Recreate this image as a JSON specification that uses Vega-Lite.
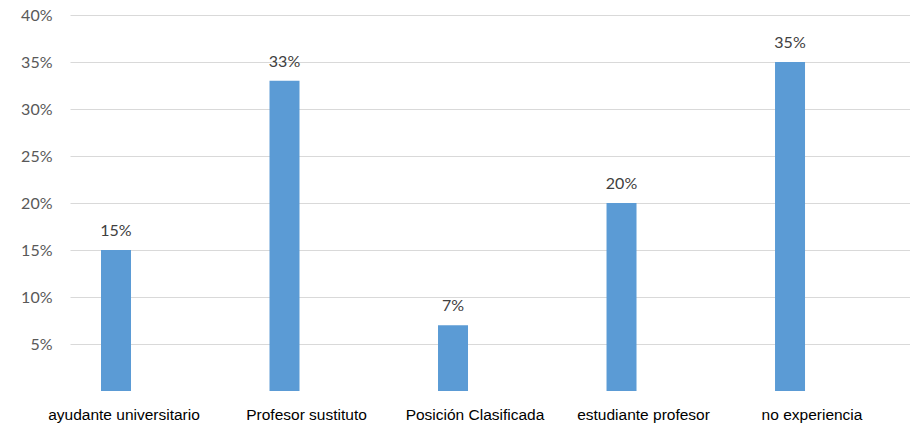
{
  "$schema": "https://vega.github.io/schema/vega-lite/v6.json",
  "autosize": "none",
  "width": 840,
  "height": 376,
  "padding": {"left": 70, "top": 15, "right": 0, "bottom": 34},
  "background": "white",
  "view": {"stroke": null},
  "data": {
    "values": [
      {"categoria": "ayudante universitario", "valor": 0.15},
      {"categoria": "Profesor sustituto", "valor": 0.33},
      {"categoria": "Posición Clasificada", "valor": 0.07},
      {"categoria": "estudiante profesor", "valor": 0.20},
      {"categoria": "no experiencia", "valor": 0.35}
    ]
  },
  "encoding": {
    "x": {
      "field": "categoria",
      "type": "nominal",
      "sort": null,
      "scale": {"paddingInner": 0.822, "paddingOuter": 0.4035, "align": 0.228},
      "axis": {
        "title": null,
        "labelAngle": 0,
        "domain": false,
        "ticks": false,
        "labelFont": "Liberation Sans",
        "labelFontSize": 15.5,
        "labelColor": "#000000",
        "labelPadding": 16,
        "labelOffset": {"condition": {"test": "datum.value === 'ayudante universitario'", "value": 8}, "value": 22}
      }
    },
    "y": {
      "field": "valor",
      "type": "quantitative",
      "scale": {"domain": [0, 0.4], "nice": false},
      "axis": {
        "title": null,
        "format": ".0%",
        "values": [0.05, 0.1, 0.15, 0.2, 0.25, 0.3, 0.35, 0.4],
        "domain": false,
        "ticks": false,
        "grid": true,
        "gridColor": "#d9d9d9",
        "gridWidth": 1,
        "labelFont": "Lato",
        "labelFontSize": 16,
        "labelColor": "#595959",
        "labelPadding": 18
      }
    }
  },
  "layer": [
    {"mark": {"type": "bar", "color": "#5b9bd5"}},
    {
      "mark": {"type": "text", "font": "Lato", "fontSize": 16, "color": "#404040", "baseline": "alphabetic", "dy": -14},
      "encoding": {"text": {"field": "valor", "type": "quantitative", "format": ".0%"}}
    }
  ]
}
